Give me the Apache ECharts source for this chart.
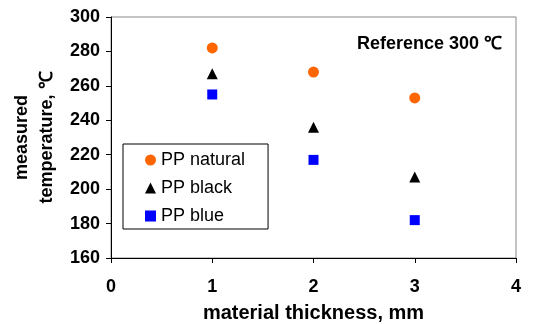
<!DOCTYPE html>
<html><head><meta charset="utf-8">
<script src="https://cdn.jsdelivr.net/npm/echarts@6/dist/echarts.min.js"></script>
<style>html,body{margin:0;padding:0;background:#fff}#c{width:544px;height:324px}</style>
</head><body><div id="c"></div>
<script>
const thickness = [1, 2, 3];
const ppNatural = [282, 268, 253];
const ppBlack = [267, 236, 207];
const ppBlue = [255, 217, 182];
const xTicks = [0, 1, 2, 3, 4];
const yTicks = [160, 180, 200, 220, 240, 260, 280, 300];
const font = '"Liberation Sans", Arial, sans-serif';
const chart = echarts.init(document.getElementById('c'), null, {renderer: 'canvas'});
function pts(v){ return thickness.map((x,i)=>[x, v[i]]); }
chart.setOption({
  animation: false,
  backgroundColor: '#fff',
  grid: {left: 111, right: 28, top: 17, bottom: 66, containLabel: false, outerBoundsMode: 'none',
    show: true, borderColor: '#888', borderWidth: 1},
  title: {text: 'Reference 300 ℃', right: 37, top: 30,
    textStyle: {fontFamily: font, fontSize: 18, fontWeight: 'bold', color: '#000'}},
  legend: {
    orient: 'vertical', left: 123, top: 144,
    padding: [7, 23, 4, 22], itemGap: 10, itemWidth: 11, itemHeight: 11,
    borderColor: '#000', borderWidth: 1, backgroundColor: '#fff',
    textStyle: {fontFamily: font, fontSize: 18, color: '#000'},
    data: ['PP natural', 'PP black', 'PP blue']
  },
  xAxis: {
    type: 'value', min: 0, max: 4, interval: 1,
    name: 'material thickness, mm', nameLocation: 'middle', nameGap: 45,
    nameTextStyle: {fontFamily: font, fontSize: 20, fontWeight: 'bold', color: '#000'},
    axisLine: {show: true, onZero: false, lineStyle: {color: '#000', width: 1}},
    axisTick: {show: true, inside: false, length: 5, lineStyle: {color: '#000'}},
    axisLabel: {fontFamily: font, fontSize: 18, fontWeight: 'bold', color: '#000', margin: 20},
    splitLine: {show: false}
  },
  yAxis: {
    type: 'value', min: 160, max: 300, interval: 20,
    name: 'measured\ntemperature, ℃', nameLocation: 'middle', nameGap: 44,
    nameTextStyle: {fontFamily: font, fontSize: 18, fontWeight: 'bold', color: '#000', lineHeight: 25},
    axisLine: {show: true, onZero: false, lineStyle: {color: '#000', width: 1}},
    axisTick: {show: true, inside: false, length: 5, lineStyle: {color: '#000'}},
    axisLabel: {fontFamily: font, fontSize: 18, fontWeight: 'bold', color: '#000', margin: 11},
    splitLine: {show: false}
  },
  series: [
    {name: 'PP natural', type: 'scatter', data: pts(ppNatural), symbol: 'circle', symbolSize: 11,
     itemStyle: {color: '#ff6600', opacity: 1}},
    {name: 'PP black', type: 'scatter', data: pts(ppBlack), symbol: 'triangle', symbolSize: 11,
     itemStyle: {color: '#000', opacity: 1}},
    {name: 'PP blue', type: 'scatter', data: pts(ppBlue), symbol: 'rect', symbolSize: 10,
     itemStyle: {color: '#0000ff', opacity: 1}}
  ]
});
</script></body></html>
